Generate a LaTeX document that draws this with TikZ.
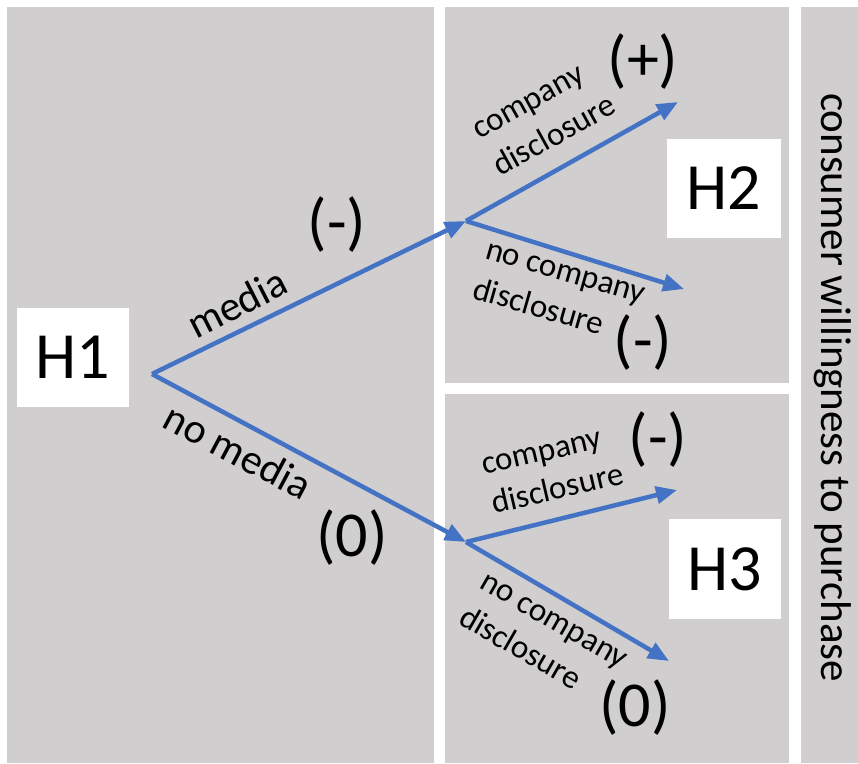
\documentclass[tikz,border=0pt]{standalone}
\usepackage{fontspec}
\setmainfont{Carlito}
\usetikzlibrary{arrows.meta}
\definecolor{panelgrey}{RGB}{208,206,206}
\definecolor{arrowblue}{RGB}{68,114,196}
\tikzset{
  panel/.style={fill=panelgrey, draw=none},
  hbox/.style={fill=white, draw=none, inner sep=0pt, font=\fontsize{66}{66}\selectfont},
  sign/.style={inner sep=0pt, font=\fontsize{64}{64}\selectfont},
  medlab/.style={inner sep=0pt, font=\fontsize{42}{42}\selectfont},
  cdlab/.style={inner sep=0pt, anchor=base west, font=\fontsize{33}{33}\selectfont},
  flow/.style={draw=arrowblue, line width=4.5pt, -{Triangle[length=21pt,width=17pt]}},
}
\begin{document}
\begin{tikzpicture}[x=1pt,y=-1pt]
\useasboundingbox (0,0) rectangle (858,763);
% panels
\fill[panel] (7,7) rectangle (434,763);
\fill[panel] (445,7) rectangle (789,383);
\fill[panel] (445,394) rectangle (789,763);
\fill[panel] (801,7) rectangle (858,763);
% boxes
\node[hbox, minimum width=112pt, minimum height=99pt] (H1) at (73,357.5) {H1};
\node[hbox, minimum width=114pt, minimum height=99pt] (H2) at (724,188.5) {H2};
\node[hbox, minimum width=112pt, minimum height=100pt] (H3) at (725,569) {H3};
% points
\coordinate (o) at (152,374);
\coordinate (ja) at (466,221);
\coordinate (jb) at (466,542);
\coordinate (a1) at (678,102);
\coordinate (a2) at (684,289);
\coordinate (b1) at (677,490);
\coordinate (b2) at (669,661);
% arrows
\draw[flow] (o) -- (ja);
\draw[flow] (o) -- (jb);
\draw[flow] (ja) -- (a1);
\draw[flow] (ja) -- (a2);
\draw[flow] (jb) -- (b1);
\draw[flow] (jb) -- (b2);
% labels
\node[medlab, rotate=27] (lm) at (237,303) {media};
\node[medlab, rotate=-28] (lnm) at (238,451) {no media};
\node[sign] (s1) at (337,225) {(-)};
\node[sign] (s2) at (352,538) {(0)};
\node[sign] (s3) at (643,62) {(+)};
\node[sign] (s4) at (643,343) {(-)};
\node[sign] (s5) at (658,440) {(-)};
\node[sign] (s6) at (635,708) {(0)};
\node[cdlab, rotate=29] (c1a) at (479,140) {company};
\node[cdlab, rotate=29] (c1b) at (500,177) {disclosure};
\node[cdlab, rotate=-16] (c2a) at (484,258) {no company};
\node[cdlab, rotate=-16] (c2b) at (471,298) {disclosure};
\node[cdlab, rotate=13] (c3a) at (484,475) {company};
\node[cdlab, rotate=13] (c3b) at (494,514) {disclosure};
\node[cdlab, rotate=-30] (c4a) at (478,587) {no company};
\node[cdlab, rotate=-30] (c4b) at (457,623) {disclosure};
\node[rotate=-90, anchor=base, inner sep=0pt, font=\fontsize{43}{43}\selectfont] (cw) at (821,387.5) {consumer willingness to purchase};
\end{tikzpicture}
\end{document}
